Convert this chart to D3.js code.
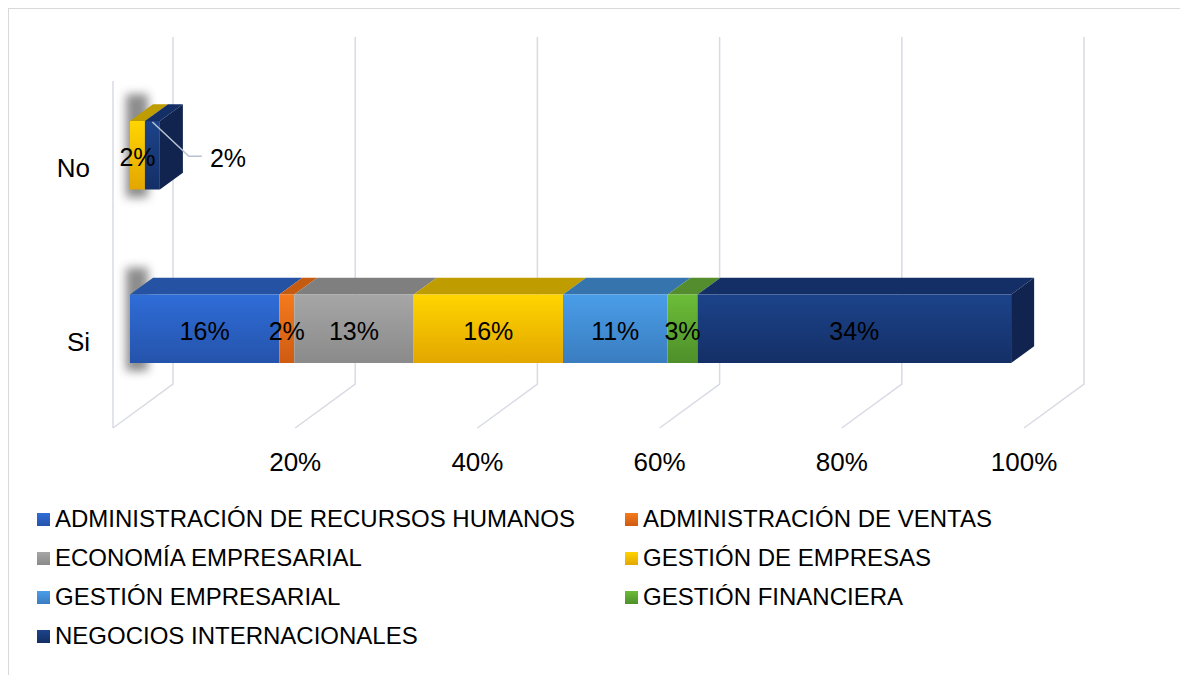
<!DOCTYPE html>
<html>
<head>
<meta charset="utf-8">
<script src="https://cdn.jsdelivr.net/npm/d3@7"></script>
<style>
  body { margin: 0; background: #fff; }
  svg { display: block; font-family: 'Liberation Sans', Arial, sans-serif; }
</style>
</head>
<body>
<svg id="chart" width="1180" height="675"></svg>
<script>
'use strict'
// data
const categories = ['No', 'Si']   // top to bottom
const series = [
  'ADMINISTRACIÓN DE RECURSOS HUMANOS',
  'ADMINISTRACIÓN DE VENTAS',
  'ECONOMÍA EMPRESARIAL',
  'GESTIÓN DE EMPRESAS',
  'GESTIÓN EMPRESARIAL',
  'GESTIÓN FINANCIERA',
  'NEGOCIOS INTERNACIONALES'
]
const siValues = [0.1639, 0.0164, 0.1311, 0.1639, 0.1148, 0.0328, 0.3443]
const noValues = [0, 0, 0, 0.0164, 0, 0, 0.0164]
const tickValues = [0.2, 0.4, 0.6, 0.8, 1]
const tickLabels = ['20%', '40%', '60%', '80%', '100%']

// colours: [front top, front bottom, top face, side face]
const palette = [
  ['#2f6dd8', '#2553ab', '#2552a2', '#1f4588'],
  ['#f57a1c', '#cf5b12', '#c55a11', '#a84b0e'],
  ['#a6a6a6', '#8a8a8a', '#7f7f7f', '#6e6e6e'],
  ['#ffd500', '#e3a600', '#bf9c00', '#a88600'],
  ['#4a9de8', '#3a7dc0', '#3674ad', '#2c6396'],
  ['#6cbd38', '#4e8f2a', '#548d2d', '#447524'],
  ['#1c438a', '#142f66', '#142f66', '#11244f']
]

const DX = 60, DY = 44          // depth offset of the whole plot
const ZF = 0.283, ZB = 0.667    // bar front / back depth

const svg = d3.select('#chart')

const x = d3.scaleLinear().domain([0, 1]).range([113, 1024])
const y = d3.scaleBand().domain(categories).range([81, 428])
  .paddingInner(0.605).paddingOuter(0.3025)

const proj = (v, z, yy) => [x(v) + z * DX, yy - z * DY]
const pts = arr => arr.map(p => p.join(',')).join(' ')

// border
svg.append('rect')
  .attr('x', 8.5).attr('y', 8.5).attr('width', 1200).attr('height', 700)
  .attr('fill', 'none').attr('stroke', '#d9d9d9').attr('stroke-width', 1)

const defs = svg.append('defs')
palette.forEach((c, i) => {
  const g = defs.append('linearGradient').attr('id', 'grad' + i)
    .attr('x1', 0).attr('y1', 0).attr('x2', 0).attr('y2', 1)
  g.append('stop').attr('offset', '0%').attr('stop-color', c[0])
  g.append('stop').attr('offset', '100%').attr('stop-color', c[1])
})
defs.append('filter').attr('id', 'blur')
  .attr('x', '-80%').attr('y', '-50%').attr('width', '260%').attr('height', '200%')
  .append('feGaussianBlur').attr('stdDeviation', 5)

// gridlines: back wall, floor, left wall edge
const grid = svg.append('g').attr('stroke', '#d9dbe4').attr('stroke-width', 1.5).attr('fill', 'none')
const yTop = y.range()[0], yBot = y.range()[1]
;[0].concat(tickValues).forEach(t => {
  const a = proj(t, 1, yTop), b = proj(t, 1, yBot), c = proj(t, 0, yBot)
  grid.append('polyline').attr('points', pts([a, b, c]))
})
grid.append('line')
  .attr('x1', x(0)).attr('y1', yTop).attr('x2', x(0)).attr('y2', yBot)

// axis labels
svg.append('g').selectAll('text')
  .data(tickValues)
  .join('text')
  .attr('x', d => x(d))
  .attr('y', 471)
  .attr('text-anchor', 'middle')
  .attr('font-size', 26)
  .attr('fill', '#000')
  .text((d, i) => tickLabels[i])

// category labels
svg.append('g').selectAll('text')
  .data(categories)
  .join('text')
  .attr('x', 90)
  .attr('y', d => y(d) + y.bandwidth() / 2)
  .attr('dy', '0.36em')
  .attr('text-anchor', 'end')
  .attr('font-size', 26)
  .attr('fill', '#000')
  .text(d => d)

const rows = { No: noValues, Si: siValues }
const fmt = d3.format('.0%')

categories.forEach(cat => {
  const vals = rows[cat]
  const top = y(cat), bot = y(cat) + y.bandwidth()
  const g = svg.append('g')

  // soft shadow on the left wall
  const s0 = proj(0, ZF, top), s1 = proj(0, ZB, top)
  g.append('rect')
    .attr('x', s0[0] - 4).attr('y', s1[1] - 10)
    .attr('width', 22).attr('height', (bot - ZF * DY) - s1[1] + 18)
    .attr('fill', '#404040').attr('opacity', 0.6)
    .attr('filter', 'url(#blur)')

  let acc = 0
  const segs = []
  vals.forEach((v, i) => {
    if (v > 0) segs.push({ i: i, v: v, a: acc, b: acc + v })
    acc += v
  })

  segs.forEach((s, k) => {
    const c = palette[s.i]
    const fTL = proj(s.a, ZF, top), fTR = proj(s.b, ZF, top)
    const fBL = proj(s.a, ZF, bot), fBR = proj(s.b, ZF, bot)
    const bTL = proj(s.a, ZB, top), bTR = proj(s.b, ZB, top), bBR = proj(s.b, ZB, bot)
    // top face
    g.append('polygon').attr('points', pts([fTL, fTR, bTR, bTL])).attr('fill', c[2])
    // front face
    g.append('polygon').attr('points', pts([fTL, fTR, fBR, fBL])).attr('fill', 'url(#grad' + s.i + ')')
    // side face on the last segment
    if (k === segs.length - 1) {
      g.append('polygon').attr('points', pts([fTR, bTR, bBR, fBR])).attr('fill', c[3])
    }
  })

  // data labels
  segs.forEach((s, k) => {
    const cx = (proj(s.a, ZF, 0)[0] + proj(s.b, ZF, 0)[0]) / 2
    const cy = (top + bot) / 2 - ZF * DY
    if (cat === 'No' && k === segs.length - 1) {
      // callout outside the small bar
      const start = [cx, top - ZF * DY + 1]
      const elbow = [proj(s.b, ZB, 0)[0] + 6, cy + 1]
      const end = [elbow[0] + 13, elbow[1]]
      g.append('polyline').attr('points', pts([start, elbow, end]))
        .attr('fill', 'none').attr('stroke', '#b8c2d2').attr('stroke-width', 1.5)
      g.append('text')
        .attr('x', end[0] + 8).attr('y', cy + 3)
        .attr('dy', '0.36em')
        .attr('font-size', 25).attr('fill', '#000')
        .text(fmt(s.v))
    } else {
      g.append('text')
        .attr('x', cx).attr('y', cy + 2)
        .attr('dy', '0.36em')
        .attr('text-anchor', 'middle')
        .attr('font-size', 25).attr('fill', '#000')
        .text(fmt(s.v))
    }
  })
})

// legend
const legend = svg.append('g')
  .selectAll('g')
  .data(series)
  .join('g')
  .attr('transform', (d, i) => 'translate(' + [i % 2 === 0 ? 37 : 625, 527 + Math.floor(i / 2) * 39] + ')')
legend.append('rect')
  .attr('x', 0).attr('y', -14).attr('width', 13).attr('height', 13)
  .attr('fill', (d, i) => 'url(#grad' + i + ')')
legend.append('text')
  .attr('x', 18).attr('y', 0)
  .attr('font-size', 24).attr('fill', '#000')
  .text(d => d)
</script>
</body>
</html>
